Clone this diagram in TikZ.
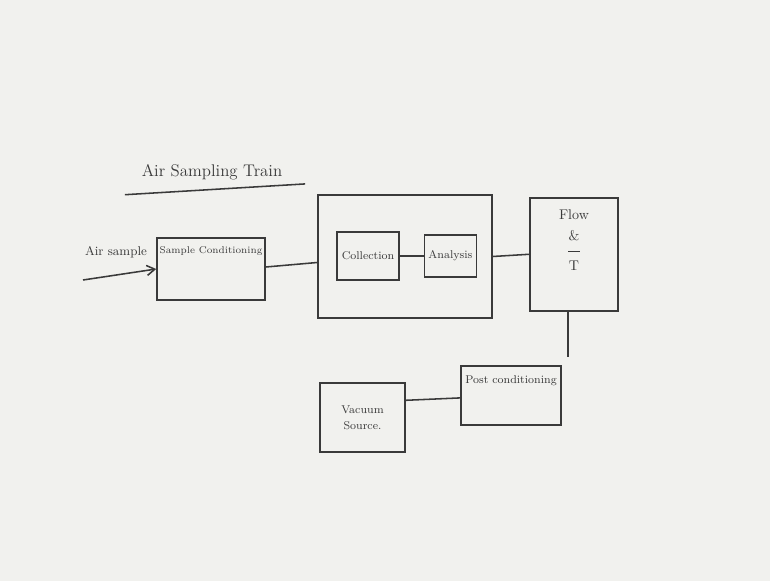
\documentclass[tikz,border=0pt]{standalone}
\usepackage{tikz}
\usetikzlibrary{arrows.meta,positioning}
\usepackage{xcolor}
\definecolor{boardbg}{HTML}{F1F1EE}
\definecolor{marker}{HTML}{3A3A3A}
\tikzset{
  stagebox/.style={
    draw=marker,
    line width=1.1pt,
    align=center,
    font=\footnotesize,
    text=marker
  },
  pipe/.style={
    draw=marker,
    line width=1.1pt
  },
  arrow/.style={
    -{Straight Barb[length=2mm,width=2.5mm]},
    line width=1.1pt,
    draw=marker
  }
}

\begin{document}
\begin{tikzpicture}
\fill[boardbg] (0,0) rectangle (19.25,-14.525);
\useasboundingbox (0,0) rectangle (19.25,-14.525);
% title
\node[font=\large, text=marker] (title) at (5.3,-4.3) {Air Sampling Train};
\draw[pipe] ([xshift=-0.3cm,yshift=-0.25cm]title.south west) -- ([xshift=0.45cm,yshift=0.02cm]title.south east);
% train
\node[font=\small, text=marker] (airlbl) at (2.9,-6.3) {Air sample};
\coordinate (inlet) at (2.075,-7.0);
\node[stagebox, minimum width=2.7cm, minimum height=1.55cm, label={[anchor=north, font=\scriptsize, text=marker, yshift=-0.12cm]north:Sample Conditioning}] (cond) at (5.275,-6.725) {};
\node[stagebox, minimum width=4.35cm, minimum height=3.075cm] (unit) at (10.125,-6.4125) {};
\node[stagebox, minimum width=1.5cm, minimum height=1.2cm] (coll) at (9.2,-6.4) {Collection};
\node[stagebox, minimum width=1.3cm, minimum height=1.05cm, inner sep=1pt, right=0.6cm of coll] (anal) {Analysis};
\node[stagebox, minimum width=2.2cm, minimum height=2.825cm, anchor=north, label={[anchor=north, font=\normalsize, text=marker, align=center, yshift=-0.2cm]north:Flow\\[3pt]\&\\[-4pt]\rule{0.3cm}{0.6pt}\\[1pt]T}] (flow) at (14.35,-4.925) {};
\node[stagebox, minimum width=2.5cm, minimum height=1.475cm, label={[anchor=north, font=\footnotesize, text=marker, yshift=-0.15cm]north:Post conditioning}] (post) at (12.775,-9.8875) {};
\node[stagebox, minimum width=2.125cm, minimum height=1.725cm] (vac) at (9.0625,-10.4375) {Vacuum\\[2pt]Source.};
% connectors
\draw[arrow] (inlet) -- (cond.west);
\draw[pipe] ([yshift=0.05cm]cond.east) -- ([yshift=-0.15cm]unit.west);
\draw[pipe] (coll.east) -- (coll.east -| anal.west);
\draw[pipe] (unit.east) -- (flow.west);
\draw[pipe] ([xshift=-0.15cm]flow.south) -- ([xshift=-0.15cm,yshift=0.2cm]flow.south |- post.north);
\draw[pipe] ([yshift=-0.12cm]vac.east |- post.west) -- ([yshift=-0.06cm]post.west);
\end{tikzpicture}
\end{document}
